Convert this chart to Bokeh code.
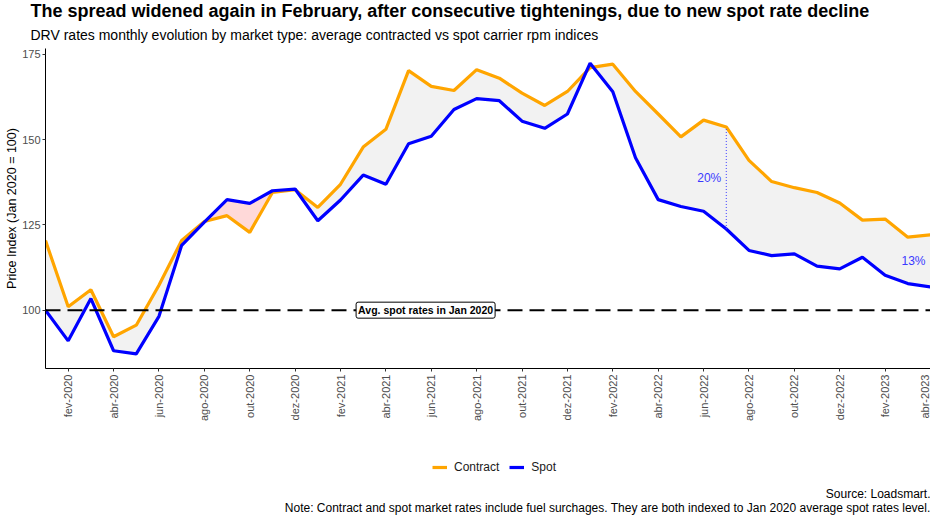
import math
import numpy as np
from bokeh.plotting import figure
from bokeh.layouts import column
from bokeh.models import (Range1d, FixedTicker, Span, Label, Legend, LegendItem, Title)
from bokeh.embed import file_html
from bokeh.resources import INLINE

# ---------------- data ----------------
month_abbr = ["jan", "fev", "mar", "abr", "mai", "jun", "jul", "ago", "set", "out", "nov", "dez"]
years = [2020, 2021, 2022, 2023]
months = [f"{m}-{y}" for y in years for m in month_abbr][:40]   # jan-2020 .. abr-2023

contract = [120.4, 101.0, 106.0, 92.2, 95.6, 107.3, 120.4, 126.0, 127.7, 122.8, 134.5, 135.3,
            130.1, 136.9, 147.8, 153.0, 170.2, 165.6, 164.4, 170.5, 168.0, 163.6, 160.0, 164.1,
            171.1, 172.1, 164.1, 157.5, 150.8, 155.7, 153.7, 143.9, 137.7, 135.9, 134.5, 131.4,
            126.4, 126.7, 121.4, 122.1]
spot = [100.0, 91.0, 103.4, 88.1, 87.2, 98.2, 119.0, 125.8, 132.4, 131.3, 135.0, 135.5,
        126.2, 132.3, 139.6, 136.9, 148.8, 151.0, 158.8, 162.0, 161.4, 155.4, 153.3, 157.5,
        172.4, 164.0, 144.7, 132.4, 130.4, 129.0, 123.8, 117.5, 116.0, 116.5, 112.9, 112.1,
        115.5, 110.2, 107.8, 106.8]
spread_idx = [30, 39]
spread_labels = ["20%", "13%"]
baseline = 100
yticks = [100, 125, 150, 175]

title_txt = "The spread widened again in February, after consecutive tightenings, due to new spot rate decline"
subtitle_txt = "DRV rates monthly evolution by market type: average contracted vs spot carrier rpm indices"
ylabel_txt = "Price Index (Jan 2020 = 100)"
source_txt = "Source: Loadsmart."
note_txt = "Note: Contract and spot market rates include fuel surchages. They are both indexed to Jan 2020 average spot rates level."

FONT = "Liberation Sans"
ORANGE = "#FFA500"
BLUE = "#0000FF"

x = np.arange(len(months), dtype=float)
c = np.array(contract)
s = np.array(spot)

# insert crossing points so the ribbons split exactly where the lines cross
xe, ce, se = [x[0]], [c[0]], [s[0]]
for i in range(len(x) - 1):
    d0, d1 = c[i] - s[i], c[i + 1] - s[i + 1]
    if d0 * d1 < 0:
        t = d0 / (d0 - d1)
        xc = x[i] + t
        yc = c[i] + t * (c[i + 1] - c[i])
        xe.append(xc); ce.append(yc); se.append(yc)
    xe.append(x[i + 1]); ce.append(c[i + 1]); se.append(s[i + 1])
xe, ce, se = np.array(xe), np.array(ce), np.array(se)
top = np.maximum(ce, se)

W = 930
H_MAIN = 425
H_BOT = 91
FL = 45   # frame left border (shared by both stacked plots)

p = figure(width=W, height=H_MAIN, output_backend="svg", toolbar_location=None,
           x_range=Range1d(0, len(months) - 1), y_range=Range1d(82.9, 176.7),
           min_border_left=FL, min_border_right=0, min_border_top=47, min_border_bottom=57,
           background_fill_color="white", border_fill_color="white")
p.outline_line_color = None
p.xgrid.visible = False
p.ygrid.visible = False

# titles (above: first added is closest to the frame)
p.add_layout(Title(text=subtitle_txt, align="left", offset=-15, standoff=11,
                   text_font=FONT, text_font_size="14px", text_font_style="normal",
                   text_color="black"), "above")
p.add_layout(Title(text=title_txt, align="left", offset=-15, standoff=-3,
                   text_font=FONT, text_font_size="18px", text_font_style="bold",
                   text_color="black"), "above")

# ribbons
p.varea(x=xe, y1=se, y2=top, fill_color="#F2F2F2")
p.varea(x=xe, y1=ce, y2=top, fill_color="#FFD9D9")

# baseline
p.add_layout(Span(location=baseline, dimension="width", line_color="black",
                  line_width=2, line_dash="15 7"))

# lines
p.line(x, c, line_color=ORANGE, line_width=3.2)
p.line(x, s, line_color=BLUE, line_width=3.2)

# spread markers
for idx, lab in zip(spread_idx, spread_labels):
    p.segment(x0=[idx], y0=[s[idx]], x1=[idx], y1=[c[idx]], line_color="#3A3AFF",
              line_width=1, line_dash="1 2")
    p.add_layout(Label(x=idx, y=(c[idx] + s[idx]) / 2, text=lab, x_offset=-5,
                       text_align="right", text_baseline="middle",
                       text_color="#3A3AFF", text_font=FONT, text_font_size="12px"))

# baseline label
p.add_layout(Label(x=16.75, y=baseline, text="Avg. spot rates in Jan 2020",
                   text_align="center", text_baseline="middle", text_font=FONT,
                   text_font_style="bold", text_font_size="10.5px", text_color="black",
                   background_fill_color="white", border_line_color="black",
                   border_line_width=1, padding=2, border_radius=2))

# axes
p.xaxis.ticker = FixedTicker(ticks=list(range(1, len(months), 2)))
p.xaxis.major_label_overrides = {i: months[i] for i in range(1, len(months), 2)}
p.xaxis.major_label_orientation = math.pi / 2
p.yaxis.ticker = FixedTicker(ticks=yticks)
p.yaxis.axis_label = ylabel_txt
p.yaxis.axis_label_text_font = FONT
p.yaxis.axis_label_text_font_size = "12.5px"
p.yaxis.axis_label_text_font_style = "normal"
p.yaxis.axis_label_text_color = "black"
p.yaxis.axis_label_standoff = 0
for ax in (p.xaxis, p.yaxis):
    ax.axis_line_color = "black"
    ax.axis_line_width = 1
    ax.major_tick_line_color = "#333333"
    ax.major_tick_out = 3
    ax.major_tick_in = 0
    ax.minor_tick_line_color = None
    ax.major_label_text_color = "#4D4D4D"
    ax.major_label_text_font = FONT
    ax.major_label_text_font_size = "11px"
p.xaxis.major_label_standoff = 3
p.yaxis.major_label_standoff = 2

# ---------------- bottom strip: legend + captions ----------------
# (its frame is aligned with the main plot's frame by the column layout)
p2 = figure(width=W, height=H_BOT, output_backend="svg", toolbar_location=None,
            x_range=Range1d(0, 1), y_range=Range1d(0, 1),
            x_axis_location=None, y_axis_location=None,
            min_border=0, min_border_left=FL,
            background_fill_color="white", border_fill_color="white")
p2.outline_line_color = None
p2.grid.visible = False
# same series drawn far outside this strip's range: only their legend swatches show
lc = p2.line(x, c, line_color=ORANGE, line_width=3.2)
ls = p2.line(x, s, line_color=BLUE, line_width=3.2)
legend = Legend(items=[LegendItem(label="Contract", renderers=[lc]),
                       LegendItem(label="Spot", renderers=[ls])],
                orientation="horizontal", location=(432 - FL, H_BOT - 49),
                border_line_color=None, background_fill_alpha=0,
                label_text_font=FONT, label_text_font_size="12px",
                label_text_color="#1A1A1A", glyph_width=15, glyph_height=14,
                label_height=14, padding=0, margin=0, spacing=10, label_standoff=7)
p2.add_layout(legend)
p2.add_layout(Label(x=W - FL, y=H_BOT - 68, x_units="screen", y_units="screen",
                    text=source_txt, text_align="right", text_baseline="middle",
                    text_font=FONT, text_font_size="12px", text_color="black"))
p2.add_layout(Label(x=W - FL, y=H_BOT - 82, x_units="screen", y_units="screen",
                    text=note_txt, text_align="right", text_baseline="middle",
                    text_font=FONT, text_font_size="12px", text_color="black"))

layout = column(p, p2, spacing=0)
open("out.html", "w").write(file_html(layout, INLINE))
